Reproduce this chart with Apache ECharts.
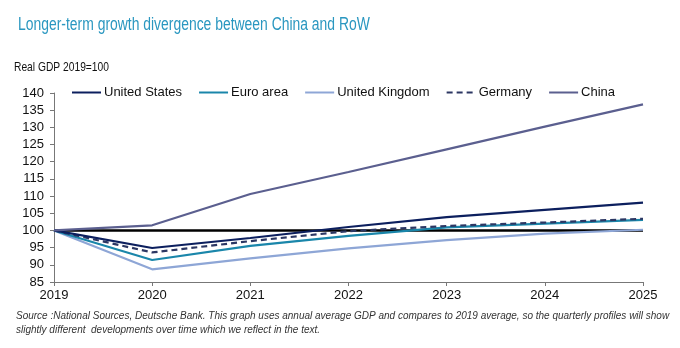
<!DOCTYPE html>
<html>
<head>
<meta charset="utf-8">
<script src="https://cdn.jsdelivr.net/npm/echarts@6/dist/echarts.min.js"></script>
<style>
  html, body { margin: 0; padding: 0; background: #fff; }
  #chart { width: 680px; height: 348px; }
</style>
</head>
<body>
<div id="chart"></div>
<script>
// Real GDP index, 2019 = 100
const years = ['2019', '2020', '2021', '2022', '2023', '2024', '2025'];
const unitedStates = [100, 94.9, 97.8, 101.0, 103.9, 106.0, 108.1];
const euroArea     = [100, 91.4, 95.5, 98.4, 100.9, 102.0, 103.1];
const unitedKingdom= [100, 88.7, 91.9, 94.8, 97.2, 99.1, 100.2];
const germany      = [100, 93.6, 96.9, 99.8, 101.3, 102.3, 103.4];
const china        = [100, 101.5, 110.6, 117.0, 123.6, 130.2, 136.7];
const baseline     = [100, 100, 100, 100, 100, 100, 100];
const yTicks = { min: 85, max: 140, step: 5 };

const FONT = '"Liberation Sans", Arial, sans-serif';

const chart = echarts.init(document.getElementById('chart'));

function line(name, data, color, dashed) {
  return {
    name: name,
    type: 'line',
    data: data,
    symbol: 'none',
    smooth: false,
    lineStyle: { color: color, width: 2.2, type: dashed ? [6, 4] : 'solid' },
    itemStyle: { color: color },
    emphasis: { disabled: true }
  };
}

chart.setOption({
  animation: false,
  textStyle: { fontFamily: FONT },
  graphic: [
    {
      // chart heading, set in a narrow face
      type: 'text',
      left: 18, top: 16,
      scaleX: 0.795,
      style: {
        text: 'Longer-term growth divergence between China and RoW',
        fill: '#2a97c0', fontSize: 17.5, fontFamily: FONT
      }
    },
    {
      type: 'text',
      left: 14, top: 60,
      scaleX: 0.76,
      style: {
        text: 'Real GDP 2019=100',
        fill: '#111', fontSize: 13.5, fontFamily: FONT
      }
    },
    {
      type: 'text',
      left: 16, top: 309,
      style: {
        text: 'Source :National Sources, Deutsche Bank. This graph uses annual average GDP and compares to 2019 average, so the quarterly profiles will show\nslightly different  developments over time which we reflect in the text.',
        fill: '#333', fontSize: 10, fontStyle: 'italic', lineHeight: 14, fontFamily: FONT
      }
    }
  ],
  legend: {
    data: ['United States', 'Euro area', 'United Kingdom', 'Germany', 'China'],
    left: 66, top: 81,
    itemWidth: 29, itemHeight: 10, itemGap: 16,
    itemStyle: { opacity: 0 },
    textStyle: { fontSize: 13, color: '#111', padding: [0, 0, 0, -2], fontFamily: FONT }
  },
  grid: { left: 54, right: 37, top: 93, bottom: 66, containLabel: false },
  xAxis: {
    type: 'category',
    data: years,
    boundaryGap: false,
    axisLine: { lineStyle: { color: '#777', width: 1 } },
    axisTick: { alignWithLabel: true, length: 4, lineStyle: { color: '#777' } },
    axisLabel: { color: '#111', fontSize: 13, margin: 7, fontFamily: FONT },
    splitLine: { show: false }
  },
  yAxis: {
    type: 'value',
    min: yTicks.min, max: yTicks.max, interval: yTicks.step,
    axisLine: { show: true, lineStyle: { color: '#777', width: 1 } },
    axisTick: { show: true, length: 4, lineStyle: { color: '#777' } },
    axisLabel: { color: '#111', fontSize: 13, margin: 10, fontFamily: FONT },
    splitLine: { show: false }
  },
  series: [
    {
      name: 'Baseline',
      type: 'line',
      data: baseline,
      symbol: 'none',
      lineStyle: { color: '#000', width: 2.6 },
      emphasis: { disabled: true },
      legendHoverLink: false
    },
    line('United Kingdom', unitedKingdom, '#8ea6d6', false),
    line('Euro area', euroArea, '#1a86aa', false),
    line('Germany', germany, '#2c3763', true),
    line('United States', unitedStates, '#0c1f5e', false),
    line('China', china, '#5b5f8f', false)
  ]
});
</script>
</body>
</html>
